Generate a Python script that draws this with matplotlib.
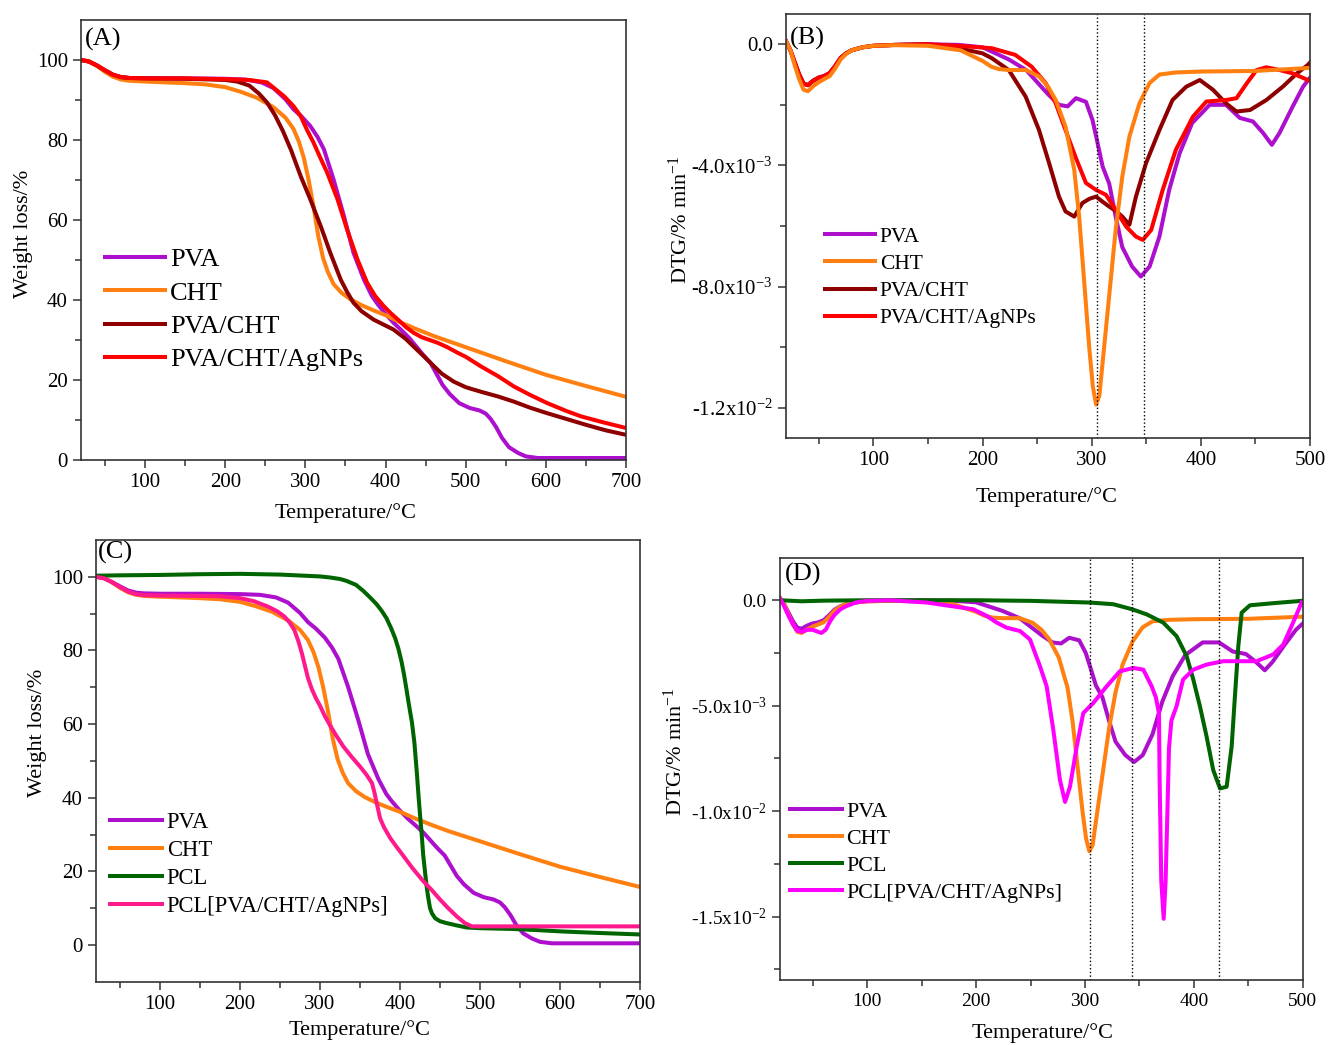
import matplotlib
matplotlib.use("Agg")
import matplotlib.pyplot as plt
import numpy as np
from matplotlib.ticker import FixedLocator

plt.rcParams['font.family'] = ['Liberation Serif', 'DejaVu Serif']
plt.rcParams['mathtext.fontset'] = 'custom'
plt.rcParams['mathtext.rm'] = 'Liberation Serif'
plt.rcParams['mathtext.it'] = 'Liberation Serif:italic'
plt.rcParams['mathtext.bf'] = 'Liberation Serif:bold'

# ---------------- TGA data (Temperature °C, weight %) ----------------
tga_pva_T = [20, 30, 40, 50, 60, 70, 80, 100, 150, 200, 225, 245, 260, 275, 285, 295, 306, 315, 323, 335,
             348, 360, 373, 383, 390, 400, 410, 419, 430, 446, 456, 465, 471, 480, 492, 505, 517, 525, 531,
             538, 545, 554, 565, 575, 590, 600, 650, 700]
tga_pva_W = [100, 99.6, 98.6, 97.4, 96.3, 95.7, 95.5, 95.4, 95.4, 95.3, 95.1, 94.4, 93.0, 90.2, 87.7, 85.9,
             83.5, 80.8, 77.7, 70.2, 61.0, 51.8, 45.1, 41.0, 39.0, 36.5, 34.3, 32.6, 30.4, 26.5, 24.3, 21.0,
             18.8, 16.5, 14.2, 13.0, 12.4, 11.6, 10.3, 8.2, 5.6, 3.2, 1.8, 0.9, 0.5, 0.5, 0.5, 0.5]

tga_cht_T = [20, 30, 40, 50, 60, 70, 80, 100, 150, 175, 200, 220, 240, 260, 275, 285, 292, 298, 304, 310,
             316, 322, 328, 335, 345, 356, 370, 385, 400, 420, 440, 460, 480, 500, 550, 600, 650, 700]
tga_cht_W = [100, 99.7, 98.5, 97.0, 95.8, 95.1, 94.8, 94.6, 94.2, 93.9, 93.2, 92.0, 90.5, 88.2, 85.6, 82.8,
             79.5, 75.5, 70.0, 63.5, 56.0, 50.5, 47.0, 44.0, 41.8, 40.2, 38.7, 37.4, 36.2, 34.3, 32.6, 31.0,
             29.6, 28.2, 24.7, 21.3, 18.5, 15.8]

tga_pvacht_T = [20, 30, 40, 50, 60, 70, 80, 100, 150, 200, 215, 230, 242, 252, 262, 272, 282, 294, 306, 319,
                331, 344, 352, 360, 370, 385, 400, 410, 425, 440, 455, 470, 485, 500, 520, 540, 560, 580, 600,
                625, 650, 675, 700]
tga_pvacht_W = [100, 99.6, 98.6, 97.4, 96.3, 95.7, 95.5, 95.4, 95.3, 95.0, 94.6, 93.6, 91.6, 89.4, 86.2, 82.2,
                77.5, 71.0, 65.2, 58.5, 51.8, 45.1, 42.0, 39.3, 37.2, 35.1, 33.6, 32.6, 30.3, 27.4, 24.5, 21.6,
                19.6, 18.2, 17.0, 15.9, 14.6, 13.1, 11.8, 10.3, 8.8, 7.4, 6.3]

tga_ag_T = [20, 30, 40, 50, 60, 70, 80, 100, 150, 200, 230, 252, 273, 285, 294, 302, 310, 318, 327, 340, 352,
            365, 377, 387, 398, 407, 416, 425, 435, 445, 455, 465, 477, 490, 500, 519, 540, 560, 580, 602, 625,
            644, 670, 700]
tga_ag_W = [100, 99.6, 98.6, 97.4, 96.3, 95.7, 95.5, 95.4, 95.4, 95.2, 95.0, 94.4, 91.0, 88.5, 86.0, 82.5, 79.4,
            75.8, 71.9, 65.2, 57.6, 50.1, 44.3, 41.0, 38.4, 36.6, 35.0, 33.3, 31.8, 30.7, 30.0, 29.3, 28.2, 26.8,
            25.8, 23.4, 21.0, 18.4, 16.3, 14.2, 12.3, 10.9, 9.5, 8.0]

tga_pcl_T = [20, 50, 100, 125, 150, 200, 250, 280, 300, 313, 325, 333, 345, 354, 363, 371, 377, 383, 389, 394,
             398, 402, 405, 408, 411, 415, 418, 421, 423, 425, 427, 429, 431, 433, 435, 437.5, 440, 444, 450,
             458, 470, 483, 500, 540, 570, 604, 650, 700]
tga_pcl_W = [100.3, 100.4, 100.5, 100.6, 100.7, 100.8, 100.6, 100.3, 100.1, 99.8, 99.4, 98.9, 97.8, 96.2, 94.3,
             92.5, 90.8, 88.8, 86.0, 83.3, 80.5, 76.9, 73.5, 69.6, 65.5, 60.4, 55.0, 47.0, 41.0, 35.5, 30.5,
             24.5, 20.5, 16.5, 13.3, 10.1, 8.6, 7.3, 6.5, 6.0, 5.4, 4.8, 4.6, 4.4, 4.1, 3.7, 3.3, 2.9]

tga_pclag_T = [20, 30, 40, 50, 60, 70, 80, 100, 150, 175, 200, 217, 235, 246, 255, 262, 268, 273, 277, 281, 285,
               290, 295, 300, 306, 313, 320, 329, 340, 350, 358, 365, 368, 371, 375, 380, 388, 396, 404, 416, 429,
               440, 450, 460, 471, 481, 490, 500, 550, 600, 650, 700]
tga_pclag_W = [100, 99.6, 98.5, 97.2, 96.0, 95.3, 95.0, 94.9, 94.8, 94.7, 94.2, 93.4, 91.9, 90.7, 89.3, 87.6,
               85.5, 82.5, 79.5, 76.0, 72.5, 69.4, 67.0, 65.0, 62.2, 59.5, 57.0, 54.0, 51.0, 48.5, 46.3, 44.0,
               41.5, 38.5, 34.5, 32.0, 29.0, 26.6, 24.3, 20.8, 17.4, 14.9, 12.4, 10.1, 7.8, 6.0, 5.1, 5.1, 5.1,
               5.1, 5.1, 5.1]

# ---------------- DTG data (Temperature °C, DTG in units of 1e-3 %/min) ----------------
dtg_pva_T = [20, 24, 28, 32, 36, 40, 45, 50, 55, 60, 65, 70, 75, 80, 90, 100, 120, 150, 178, 200, 224, 240, 250,
             260, 270, 278, 285.5, 294.7, 300.7, 305, 310, 316, 322, 328, 337, 345, 353, 362, 371, 380.5, 392,
             408, 423, 435.6, 447.7, 457, 465, 472, 484, 493.6, 500]
dtg_pva_V = [0.1, -0.2, -0.6, -1.0, -1.3, -1.35, -1.2, -1.1, -1.05, -0.95, -0.72, -0.45, -0.3, -0.2, -0.1, -0.05,
             -0.02, 0.0, -0.02, -0.1, -0.5, -0.85, -1.25, -1.65, -2.0, -2.05, -1.78, -1.9, -2.5, -3.2, -4.04,
             -4.6, -5.7, -6.7, -7.34, -7.67, -7.34, -6.35, -4.8, -3.6, -2.6, -2.0, -2.0, -2.43, -2.55, -2.93,
             -3.32, -2.93, -2.06, -1.4, -1.1]

dtg_cht_T = [20, 24, 28, 32, 36, 40, 45, 50, 55, 60, 65, 70, 75, 80, 90, 100, 120, 150, 180, 200, 208, 215, 224,
             240, 252, 260, 267, 276, 284, 288.5, 293, 297.7, 301, 304, 307, 310, 316, 322, 328, 334.5, 343.7,
             353, 362, 377, 400, 450, 500]
dtg_cht_V = [0.1, -0.2, -0.7, -1.15, -1.5, -1.55, -1.38, -1.25, -1.15, -1.05, -0.8, -0.5, -0.32, -0.2, -0.1,
             -0.05, -0.03, -0.05, -0.2, -0.55, -0.74, -0.82, -0.85, -0.85, -1.07, -1.4, -1.84, -2.72, -4.15,
             -5.7, -7.8, -10.0, -11.3, -11.9, -11.6, -10.5, -8.3, -6.1, -4.37, -3.05, -1.95, -1.28, -1.0,
             -0.93, -0.9, -0.88, -0.78]

dtg_pvacht_T = [20, 24, 28, 32, 36, 40, 45, 50, 55, 60, 65, 70, 75, 80, 90, 100, 120, 150, 178, 200, 208.5,
                224, 239.5, 251.7, 261, 270, 276, 284, 291.5, 298, 304, 310, 316, 322, 328, 334.5, 340.5, 349.7,
                362, 374, 386.6, 399, 411, 423, 432.6, 445, 460, 475, 488, 498, 500]
dtg_pvacht_V = [0.1, -0.2, -0.6, -1.0, -1.3, -1.35, -1.2, -1.1, -1.05, -0.95, -0.72, -0.45, -0.3, -0.2, -0.1,
                -0.05, -0.02, 0.0, -0.13, -0.3, -0.46, -0.85, -1.73, -2.83, -3.93, -5.03, -5.52, -5.69, -5.24,
                -5.1, -5.03, -5.2, -5.36, -5.5, -5.69, -5.96, -5.03, -3.93, -2.83, -1.84, -1.4, -1.18, -1.5,
                -1.95, -2.22, -2.17, -1.84, -1.4, -0.96, -0.68, -0.6]

dtg_ag_T = [20, 24, 28, 32, 36, 40, 45, 50, 55, 60, 65, 70, 75, 80, 90, 100, 120, 150, 178, 208.5, 230, 245, 258,
            267, 276, 285, 294.7, 304, 313, 322, 331.5, 340.5, 346.8, 354.5, 365, 377, 392.7, 405, 423, 432.6,
            442, 451, 460, 472, 484, 498, 500]
dtg_ag_V = [0.1, -0.2, -0.6, -1.0, -1.3, -1.35, -1.2, -1.1, -1.05, -0.95, -0.72, -0.45, -0.3, -0.2, -0.1, -0.05,
            -0.02, 0.0, -0.05, -0.13, -0.35, -0.74, -1.29, -1.95, -2.83, -3.71, -4.58, -4.81, -4.97, -5.47,
            -6.02, -6.35, -6.46, -6.13, -4.81, -3.49, -2.39, -1.89, -1.84, -1.78, -1.29, -0.85, -0.76, -0.85,
            -0.96, -1.18, -1.2]

dtg_pcl_T = [20, 40, 60, 100, 155, 200, 250, 304.6, 326, 343.4, 356.6, 371.8, 384, 393.3, 399.4, 405.5, 411.6,
             417.7, 423.9, 430, 434.6, 437.6, 440.7, 443.8, 451.4, 472.8, 498.8, 500]
dtg_pcl_V = [0.0, -0.05, -0.02, 0.0, 0.0, 0.0, -0.03, -0.11, -0.19, -0.43, -0.67, -1.06, -1.7, -2.65, -3.76,
             -5.03, -6.46, -8.05, -8.92, -8.84, -6.94, -4.56, -2.18, -0.59, -0.24, -0.14, -0.03, -0.02]

dtg_pclag_T = [20, 24, 28, 32, 36, 40, 45, 50, 55, 58, 62, 66, 70, 75, 80, 90, 100, 120, 155, 197.5, 210, 219,
               228, 240.4, 249.5, 258.7, 264.8, 270.9, 277, 281.7, 286.2, 292.4, 298.4, 307.6, 319.9, 332, 344.3,
               353.5, 361.2, 365, 367.9, 368.5, 370, 372.2, 374, 375.6, 377.1, 379.3, 384, 390, 399.4, 411.6, 427,
               457.5, 472.8, 482, 491, 498.8]
dtg_pclag_V = [0.1, -0.3, -0.75, -1.15, -1.45, -1.5, -1.4, -1.4, -1.5, -1.55, -1.4, -1.0, -0.7, -0.45, -0.3,
               -0.1, -0.03, 0.0, -0.11, -0.43, -0.75, -1.06, -1.3, -1.46, -1.86, -3.13, -4.08, -6.14, -8.52,
               -9.56, -8.84, -6.94, -5.35, -4.87, -4.08, -3.37, -3.21, -3.29, -4.08, -4.6, -5.35, -8.5, -13.3,
               -15.1, -13.3, -10.1, -7.0, -5.7, -5.03, -3.76, -3.29, -3.05, -2.89, -2.89, -2.57, -2.1, -1.06,
               -0.11]

dotted_B = [305, 348]
dotted_D = [305, 343, 423]

labels_AB = ['PVA', 'CHT', 'PVA/CHT', 'PVA/CHT/AgNPs']
labels_CD = ['PVA', 'CHT', 'PCL', 'PCL[PVA/CHT/AgNPs]']

c_pva = '#ac10cc'
c_cht = '#ff8010'
c_pvacht = '#8e0000'
c_ag = '#ff0000'
c_pcl = '#006400'
c_pclag_C = '#ff1a8c'
c_pclag_D = '#ff00ff'

LW = 2.9
S = 1e-3

fig = plt.figure(figsize=(13.28, 10.45), dpi=100)
axA = fig.add_axes([0.0610, 0.5598, 0.4104, 0.4211])
axB = fig.add_axes([0.5919, 0.5809, 0.3946, 0.4057])
axC = fig.add_axes([0.0723, 0.0603, 0.4096, 0.4230])
axD = fig.add_axes([0.5873, 0.0622, 0.3938, 0.4038])


def style(ax, tick_fs):
    for sp in ax.spines.values():
        sp.set_color('#333333')
        sp.set_linewidth(1.2)
    ax.tick_params(which='both', direction='out', top=False, right=False, colors='#333333',
                   labelcolor='black', labelsize=tick_fs)
    ax.tick_params(which='major', length=6, width=1.1)
    ax.tick_params(which='minor', length=4, width=1.1)


# ---------- Panel A ----------
axA.plot(tga_pva_T, tga_pva_W, color=c_pva, lw=LW, label=labels_AB[0])
axA.plot(tga_cht_T, tga_cht_W, color=c_cht, lw=LW, label=labels_AB[1])
axA.plot(tga_pvacht_T, tga_pvacht_W, color=c_pvacht, lw=LW, label=labels_AB[2])
axA.plot(tga_ag_T, tga_ag_W, color=c_ag, lw=LW, label=labels_AB[3])
axA.set_xlim(20, 700)
axA.set_ylim(0, 110)
axA.xaxis.set_major_locator(FixedLocator([100, 200, 300, 400, 500, 600, 700]))
axA.xaxis.set_minor_locator(FixedLocator([50, 150, 250, 350, 450, 550, 650]))
axA.yaxis.set_major_locator(FixedLocator([0, 20, 40, 60, 80, 100]))
axA.yaxis.set_minor_locator(FixedLocator([10, 30, 50, 70, 90]))
style(axA, 15)
axA.set_xlabel('Temperature/°C', fontsize=16)
axA.set_ylabel('Weight loss/%', fontsize=16)
axA.xaxis.set_label_coords(0.486, -0.12)
axA.yaxis.set_label_coords(-0.105, 0.514)
axA.xaxis.label.set_va('center')
axA.yaxis.label.set_va('center')
axA.text(0.007, 0.955, '(A)', transform=axA.transAxes, fontsize=19, va='center', ha='left')
axA.legend(loc='center left', bbox_to_anchor=(0.044, 0.342), frameon=False, fontsize=19,
           handlelength=2.27, handletextpad=0.2, labelspacing=0.37, borderpad=0, borderaxespad=0)

# ---------- Panel B ----------
axB.plot(dtg_pva_T, np.array(dtg_pva_V) * S, color=c_pva, lw=LW, label=labels_AB[0])
axB.plot(dtg_pvacht_T, np.array(dtg_pvacht_V) * S, color=c_pvacht, lw=LW, label=labels_AB[2])
axB.plot(dtg_ag_T, np.array(dtg_ag_V) * S, color=c_ag, lw=LW, label=labels_AB[3])
axB.plot(dtg_cht_T, np.array(dtg_cht_V) * S, color=c_cht, lw=LW, label=labels_AB[1])
for t in dotted_B:
    axB.axvline(t, color='black', ls=':', lw=1.0)
axB.set_xlim(20, 500)
axB.set_ylim(-0.013, 0.001)
axB.xaxis.set_major_locator(FixedLocator([100, 200, 300, 400, 500]))
axB.xaxis.set_minor_locator(FixedLocator([50, 150, 250, 350, 450]))
axB.yaxis.set_major_locator(FixedLocator([0.0, -0.004, -0.008, -0.012]))
axB.yaxis.set_minor_locator(FixedLocator([-0.002, -0.006, -0.010]))
axB.set_yticklabels(['0.0', '-4.0x10$^{-3}$', '-8.0x10$^{-3}$', '-1.2x10$^{-2}$'])
style(axB, 15)
axB.set_xlabel('Temperature/°C', fontsize=16)
axB.set_ylabel('DTG/% min$^{-1}$', fontsize=16)
axB.xaxis.set_label_coords(0.498, -0.139)
axB.yaxis.set_label_coords(-0.202, 0.514)
axB.xaxis.label.set_va('center')
axB.yaxis.label.set_va('center')
axB.text(0.008, 0.943, '(B)', transform=axB.transAxes, fontsize=19, va='center', ha='left')
h, l = axB.get_legend_handles_labels()
hd = dict(zip(l, h))
axB.legend([hd[x] for x in labels_AB], labels_AB, loc='center left', bbox_to_anchor=(0.074, 0.3785),
           frameon=False, fontsize=15.5, handlelength=2.33, handletextpad=0.23, labelspacing=0.33,
           borderpad=0, borderaxespad=0)

# ---------- Panel C ----------
axC.plot(tga_pva_T, tga_pva_W, color=c_pva, lw=LW, label=labels_CD[0])
axC.plot(tga_cht_T, tga_cht_W, color=c_cht, lw=LW, label=labels_CD[1])
axC.plot(tga_pcl_T, tga_pcl_W, color=c_pcl, lw=LW, label=labels_CD[2])
axC.plot(tga_pclag_T, tga_pclag_W, color=c_pclag_C, lw=LW, label=labels_CD[3])
axC.set_xlim(20, 700)
axC.set_ylim(-10, 110)
axC.xaxis.set_major_locator(FixedLocator([100, 200, 300, 400, 500, 600, 700]))
axC.xaxis.set_minor_locator(FixedLocator([50, 150, 250, 350, 450, 550, 650]))
axC.yaxis.set_major_locator(FixedLocator([0, 20, 40, 60, 80, 100]))
axC.yaxis.set_minor_locator(FixedLocator([10, 30, 50, 70, 90]))
style(axC, 15)
axC.set_xlabel('Temperature/°C', fontsize=16)
axC.set_ylabel('Weight loss/%', fontsize=16)
axC.xaxis.set_label_coords(0.485, -0.109)
axC.yaxis.set_label_coords(-0.108, 0.563)
axC.xaxis.label.set_va('center')
axC.yaxis.label.set_va('center')
axC.text(0.004, 0.971, '(C)', transform=axC.transAxes, fontsize=19, va='center', ha='left')
axC.legend(loc='center left', bbox_to_anchor=(0.026, 0.266), frameon=False, fontsize=16.3,
           handlelength=2.3, handletextpad=0.2, labelspacing=0.31, borderpad=0, borderaxespad=0)

# ---------- Panel D ----------
axD.plot(dtg_pva_T, np.array(dtg_pva_V) * S, color=c_pva, lw=LW, label=labels_CD[0])
axD.plot(dtg_cht_T, np.array(dtg_cht_V) * S, color=c_cht, lw=LW, label=labels_CD[1])
axD.plot(dtg_pcl_T, np.array(dtg_pcl_V) * S, color=c_pcl, lw=LW, label=labels_CD[2])
axD.plot(dtg_pclag_T, np.array(dtg_pclag_V) * S, color=c_pclag_D, lw=LW, label=labels_CD[3])
for t in dotted_D:
    axD.axvline(t, color='black', ls=':', lw=1.0)
axD.set_xlim(20, 500)
axD.set_ylim(-0.018, 0.002)
axD.xaxis.set_major_locator(FixedLocator([100, 200, 300, 400, 500]))
axD.xaxis.set_minor_locator(FixedLocator([50, 150, 250, 350, 450]))
axD.yaxis.set_major_locator(FixedLocator([0.0, -0.005, -0.010, -0.015]))
axD.yaxis.set_minor_locator(FixedLocator([-0.0025, -0.0075, -0.0125, -0.0175]))
axD.set_yticklabels(['0.0', '-5.0x10$^{-3}$', '-1.0x10$^{-2}$', '-1.5x10$^{-2}$'])
style(axD, 14)
axD.set_xlabel('Temperature/°C', fontsize=16)
axD.set_ylabel('DTG/% min$^{-1}$', fontsize=16)
axD.xaxis.set_label_coords(0.503, -0.126)
axD.yaxis.set_label_coords(-0.2, 0.54)
axD.xaxis.label.set_va('center')
axD.yaxis.label.set_va('center')
axD.text(0.01, 0.96, '(D)', transform=axD.transAxes, fontsize=19, va='center', ha='left')
axD.legend(loc='center left', bbox_to_anchor=(0.019, 0.303), frameon=False, fontsize=15.8,
           handlelength=2.36, handletextpad=0.2, labelspacing=0.31, borderpad=0, borderaxespad=0)

fig.savefig('out.png', dpi=100, facecolor='white')
